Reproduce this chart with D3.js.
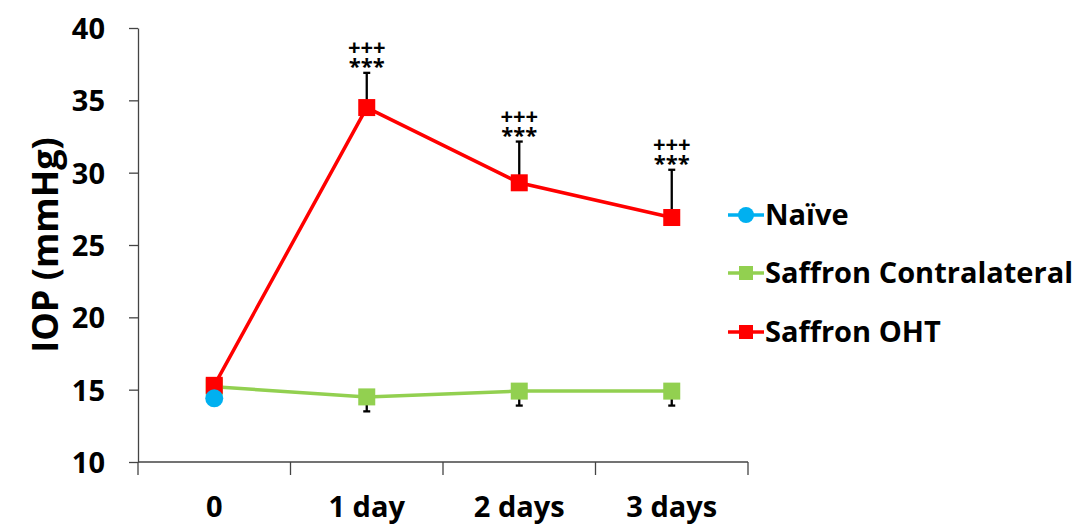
<!DOCTYPE html>
<html lang="en">
<head>
<meta charset="UTF-8">
<script src="https://cdn.jsdelivr.net/npm/d3@7/dist/d3.min.js"></script>
<style>
  * { margin: 0; padding: 0; }
  body { background: #fff; }
  text { font-family: "Open Sans", "Lato", sans-serif; font-weight: bold; fill: #000; }
</style>
<title>IOP</title>
</head>
<body>
<script>
  const width = 1074, height = 524;
  const categories = ["0", "1 day", "2 days", "3 days"];
  const yTicks = [10, 15, 20, 25, 30, 35, 40];

  const naive = [14.4, null, null, null];
  const contraVals = [15.2, 14.5, 14.9, 14.9];
  const contraErr = [0.2, 1.0, 1.0, 1.0];
  const ohtVals = [15.3, 34.5, 29.3, 26.9];
  const ohtErr = [0.4, 2.4, 2.85, 3.3];
  const marks = [null, ["+++", "***"], ["+++", "***"], ["+++", "***"]];

  const seriesNames = ["Naïve", "Saffron Contralateral", "Saffron OHT"];
  const colors = ["#00B0F0", "#92D050", "#FF0000"];

  const svg = d3.select("body").append("svg")
    .attr("width", width).attr("height", height);

  const x = d3.scaleBand().domain(categories).range([138, 748]);
  const y = d3.scaleLinear().domain([10, 40]).range([462, 28]);
  const cx = d => x(d) + x.bandwidth() / 2;

  // y axis
  const yAxis = svg.append("g").attr("transform", "translate(138,0)")
    .call(d3.axisLeft(y).tickValues(yTicks).tickSize(9).tickPadding(24).tickSizeOuter(0));
  yAxis.attr("font-size", null).attr("font-family", null);
  yAxis.select(".domain").attr("stroke", "#444").attr("stroke-width", 1.3);
  yAxis.selectAll(".tick line").attr("stroke", "#444").attr("stroke-width", 1.3);
  yAxis.selectAll("text").style("font-size", "29px").attr("dy", "0.36em");

  // x axis
  const xAxis = svg.append("g").attr("transform", "translate(0,462)");
  xAxis.append("line").attr("x1", x.range()[0]).attr("x2", x.range()[1])
    .attr("stroke", "#444").attr("stroke-width", 1.3);
  const bounds = categories.map(c => x(c)).concat([x.range()[1]]);
  xAxis.selectAll("line.tk").data(bounds).enter().append("line")
    .attr("x1", d => d).attr("x2", d => d).attr("y1", 0).attr("y2", 13)
    .attr("stroke", "#444").attr("stroke-width", 1.3);
  xAxis.selectAll("text").data(categories).enter().append("text")
    .attr("x", d => cx(d)).attr("y", 55).attr("text-anchor", "middle")
    .style("font-size", "29px").text(d => d);

  // y title
  svg.append("text")
    .attr("transform", "translate(58,245) rotate(-90)")
    .attr("text-anchor", "middle").style("font-size", "36px")
    .text("IOP (mmHg)");

  const line = d3.line().defined(d => d.v != null).x(d => cx(d.c)).y(d => y(d.v));

  // error bars
  const errGroup = svg.append("g");
  function errBars(vals, errs, dir) {
    categories.forEach((c, i) => {
      const y0 = y(vals[i]), y1 = y(vals[i] + dir * errs[i]);
      errGroup.append("line").attr("x1", cx(c)).attr("x2", cx(c))
        .attr("y1", y0).attr("y2", y1).attr("stroke", "#000").attr("stroke-width", 2.3);
      errGroup.append("line").attr("x1", cx(c) - 3.5).attr("x2", cx(c) + 3.5)
        .attr("y1", y1).attr("y2", y1).attr("stroke", "#000").attr("stroke-width", 2.3);
    });
  }
  errBars(ohtVals, ohtErr, 1);
  errBars(contraVals, contraErr, -1);

  // lines
  const contraData = categories.map((c, i) => ({ c, v: contraVals[i] }));
  const ohtData = categories.map((c, i) => ({ c, v: ohtVals[i] }));
  const naiveData = categories.map((c, i) => ({ c, v: naive[i] }));

  svg.append("path").datum(contraData).attr("d", line)
    .attr("fill", "none").attr("stroke", colors[1]).attr("stroke-width", 3.5);
  svg.append("path").datum(ohtData).attr("d", line)
    .attr("fill", "none").attr("stroke", colors[2]).attr("stroke-width", 3.5);

  const sq = 17;
  svg.selectAll("rect.contra").data(contraData).enter().append("rect")
    .attr("x", d => cx(d.c) - sq / 2).attr("y", d => y(d.v) - sq / 2)
    .attr("width", sq).attr("height", sq).attr("fill", colors[1]);
  svg.selectAll("rect.oht").data(ohtData).enter().append("rect")
    .attr("x", d => cx(d.c) - sq / 2).attr("y", d => y(d.v) - sq / 2)
    .attr("width", sq).attr("height", sq).attr("fill", colors[2]);
  svg.selectAll("circle.naive").data(naiveData.filter(d => d.v != null)).enter().append("circle")
    .attr("cx", d => cx(d.c)).attr("cy", d => y(d.v)).attr("r", 9).attr("fill", colors[0]);

  // significance marks (one text, two lines)
  categories.forEach((c, i) => {
    if (!marks[i]) return;
    const top = y(ohtVals[i] + ohtErr[i]);
    const t = svg.append("text").attr("text-anchor", "middle").style("font-size", "22px");
    t.append("tspan").attr("x", cx(c)).attr("y", top - 18).text(marks[i][0]);
    t.append("tspan").attr("x", cx(c)).attr("y", top + 1).text(marks[i][1]);
  });

  // legend
  const legend = svg.append("g").attr("transform", "translate(728,0)");
  const ly = [215, 273, 332];
  seriesNames.forEach((name, i) => {
    const g = legend.append("g").attr("transform", `translate(0,${ly[i]})`);
    g.append("line").attr("x1", 0).attr("x2", 36).attr("stroke", colors[i]).attr("stroke-width", 3.5);
    if (i === 0) g.append("circle").attr("cx", 18).attr("r", 8).attr("fill", colors[i]);
    else g.append("rect").attr("x", 11).attr("y", -7).attr("width", 14).attr("height", 14).attr("fill", colors[i]);
    g.append("text").attr("x", 37).attr("dy", "0.35em").style("font-size", "29px").text(name);
  });
</script>
</body>
</html>
